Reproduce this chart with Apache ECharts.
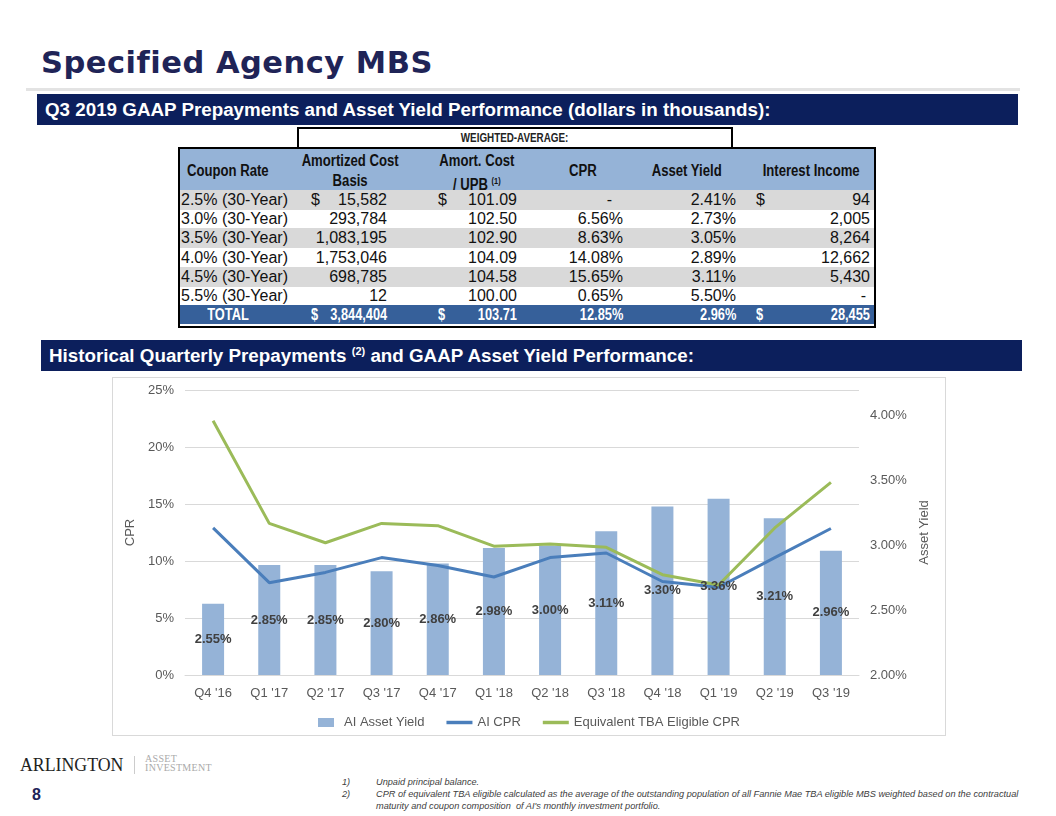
<!DOCTYPE html>
<html>
<head>
<meta charset="utf-8">
<script src="https://cdn.jsdelivr.net/npm/echarts@6/dist/echarts.min.js"></script>
<style>
  html, body { margin:0; padding:0; background:#fff; }
  #page { position:relative; width:1056px; height:816px; overflow:hidden; font-family:"Liberation Sans", Arial, sans-serif; }
  .abs { position:absolute; white-space:nowrap; }
  .banner { position:absolute; background:#0c1f5c; color:#fff; font-family:"Liberation Sans",Arial,sans-serif; font-weight:bold; font-size:18.8px; line-height:31px; height:31px; padding-left:8px; box-sizing:border-box; }
  .cell { position:absolute; white-space:nowrap; }
</style>
</head>
<body>
<div id="page">
  <div class="abs" style="left:41px;top:45px;font-family:'DejaVu Sans',sans-serif;font-weight:bold;font-size:30.5px;color:#1f2457;letter-spacing:0.5px;">Specified Agency MBS</div>
  <div class="abs" style="left:26px;top:88px;width:994px;height:3px;background:#e3e3e3;"></div>
  <div class="banner" style="left:37px;top:94px;width:981px;">Q3 2019 GAAP Prepayments and Asset Yield Performance (dollars in thousands):</div>
  <div id="table"></div>
  <div class="banner" style="left:41px;top:340px;width:981px;">Historical Quarterly Prepayments <sup style="font-size:11px;line-height:0;">(2)</sup> and GAAP Asset Yield Performance:</div>
  <div class="abs" style="left:112px;top:377px;width:832px;height:357px;border:1px solid #d9d9d9;"></div>
  <div id="chart" class="abs" style="left:112px;top:377px;width:834px;height:359px;"></div>

  <div class="abs" style="left:20px;top:755px;font-family:'Liberation Serif',serif;font-size:17.8px;color:#222;">ARLINGTON</div>
  <div class="abs" style="left:134px;top:756px;width:1px;height:18px;background:#ccc;"></div>
  <div class="abs" style="left:145px;top:755px;font-family:'Liberation Serif',serif;font-size:10px;line-height:8.5px;color:#aaa;letter-spacing:0.3px;">ASSET<br>INVESTMENT</div>
  <div class="abs" style="left:32px;top:786px;font-weight:bold;font-size:16px;color:#1f2457;">8</div>

  <div class="abs" style="left:342px;top:776px;font-size:9.2px;line-height:12px;font-style:italic;color:#404040;">1)<br>2)</div>
  <div class="abs" style="left:376px;top:776px;font-size:9.2px;line-height:12px;font-style:italic;color:#404040;">Unpaid principal balance.<br>CPR of equivalent TBA eligible calculated as the average of the outstanding population of all Fannie Mae TBA eligible MBS weighted based on the contractual<br>maturity and coupon composition&nbsp; of AI's monthly investment portfolio.</div>
</div>
<script>
// ---------- Table data ----------
var couponRates = ['2.5% (30-Year)', '3.0% (30-Year)', '3.5% (30-Year)', '4.0% (30-Year)', '4.5% (30-Year)', '5.5% (30-Year)'];
var amortizedCost = [15582, 293784, 1083195, 1753046, 698785, 12];
var costToUpb = [101.09, 102.50, 102.90, 104.09, 104.58, 100.00];
var couponCpr = [null, 6.56, 8.63, 14.08, 15.65, 0.65];
var couponYield = [2.41, 2.73, 3.05, 2.89, 3.11, 5.50];
var interestIncome = [94, 2005, 8264, 12662, 5430, null];
var totalRow = { cost: 3844404, upb: 103.71, cpr: 12.85, yld: 2.96, income: 28455 };

// ---------- Chart data ----------
var quarters = ["Q4 '16", "Q1 '17", "Q2 '17", "Q3 '17", "Q4 '17", "Q1 '18", "Q2 '18", "Q3 '18", "Q4 '18", "Q1 '19", "Q2 '19", "Q3 '19"];
var aiAssetYield = [2.55, 2.85, 2.85, 2.80, 2.86, 2.98, 3.00, 3.11, 3.30, 3.36, 3.21, 2.96];
var aiCpr = [12.9, 8.1, 9.0, 10.3, 9.6, 8.6, 10.3, 10.7, 8.2, 7.7, 10.3, 12.85];
var tbaCpr = [22.3, 13.3, 11.6, 13.3, 13.1, 11.3, 11.5, 11.2, 8.8, 7.9, 12.9, 16.9];
var cprTicks = [0, 25, 5];
var yieldTicks = [2, 4.2, 0.5];

function fmtInt(v){ return v.toLocaleString('en-US'); }
function fmtPct(v){ return v == null ? '-' : v.toFixed(2) + '%'; }

// ---------- Build table ----------
(function(){
  var t = document.getElementById('table');
  var html = '';
  var L = 180, R = 874;
  html += '<div class="cell" style="left:297px;top:127px;width:432px;height:19px;border:2px solid #000;border-bottom:none;"></div>';
  html += '<div class="cell" style="left:297px;top:129px;width:436px;text-align:center;font-size:12px;line-height:19px;font-weight:bold;color:#222;"><span style="display:inline-block;transform:scaleX(0.82);">WEIGHTED-AVERAGE:</span></div>';
  html += '<div class="cell" style="left:' + (L-2) + 'px;top:147px;width:' + (R-L) + 'px;height:177px;border:2px solid #000;"></div>';
  html += '<div class="cell" style="left:' + L + 'px;top:149px;width:' + (R-L) + 'px;height:41px;background:#95b3d7;border-bottom:1px solid #000;"></div>';
  var hdr = [
    {c:228, t:'Coupon Rate', y:171},
    {c:350, t:'Amortized Cost<br>Basis', y:0},
    {c:477, t:'Amort. Cost<br>/ UPB <sup style="font-size:9px;">(1)</sup>', y:0},
    {c:583, t:'CPR', y:171},
    {c:687, t:'Asset Yield', y:171},
    {c:811, t:'Interest Income', y:171}
  ];
  hdr.forEach(function(h){
    var top = h.y ? (h.y - 10) : 151;
    html += '<div class="cell" style="left:' + (h.c-80) + 'px;width:160px;top:' + top + 'px;text-align:center;font-weight:bold;font-size:16px;line-height:20px;color:#111;"><span style="display:inline-block;transform:scaleX(0.82);">' + h.t + '</span></div>';
  });
  var rowTop = 190, rh = 19.2;
  function rowCells(y, vals, color, bold){
    var s = '';
    var sx = bold ? 'transform:scaleX(0.8);' : '';
    var st = 'top:' + y + 'px;font-size:' + (bold ? 16 : 16) + 'px;line-height:' + rh + 'px;color:' + color + ';' + (bold ? 'font-weight:bold;' : '');
    function right(x, txt){ return '<div class="cell" style="' + st + sx + 'transform-origin:100% 50%;right:' + (1056-x) + 'px;">' + txt + '</div>'; }
    function left(x, txt){ return '<div class="cell" style="' + st + sx + 'transform-origin:0 50%;left:' + x + 'px;">' + txt + '</div>'; }
    if (vals.center) s += '<div class="cell" style="' + st + sx + 'left:148px;width:160px;text-align:center;">' + vals.label + '</div>';
    else s += left(181, vals.label);
    if (vals.d1) s += left(311, '$');
    s += right(387, vals.cost);
    if (vals.d2) s += left(438, '$');
    s += right(517, vals.upb);
    s += right(vals.cprDash ? 612 : 623, vals.cpr);
    s += right(736, vals.yld);
    if (vals.d3) s += left(756, '$');
    s += right(vals.incDash ? 866 : 870, vals.inc);
    return s;
  }
  for (var i = 0; i < couponRates.length; i++){
    var y = Math.round(rowTop + i*rh);
    if (i % 2 === 0) html += '<div class="cell" style="left:' + L + 'px;top:' + y + 'px;width:' + (R-L) + 'px;height:' + Math.ceil(rh) + 'px;background:#d9d9d9;"></div>';
    html += rowCells(y, {
      label: couponRates[i], d1: i===0, d2: i===0, d3: i===0,
      cost: fmtInt(amortizedCost[i]), upb: costToUpb[i].toFixed(2),
      cpr: fmtPct(couponCpr[i]), cprDash: couponCpr[i]==null,
      yld: fmtPct(couponYield[i]),
      inc: interestIncome[i]==null ? '-' : fmtInt(interestIncome[i]), incDash: interestIncome[i]==null
    }, '#111', false);
  }
  var ty = Math.round(rowTop + couponRates.length*rh);
  html += '<div class="cell" style="left:' + L + 'px;top:' + ty + 'px;width:' + (R-L) + 'px;height:' + (324-ty) + 'px;background:#36609a;"></div>';
  html += rowCells(ty, {
    label: 'TOTAL', center: true, d1: true, d2: true, d3: true,
    cost: fmtInt(totalRow.cost), upb: totalRow.upb.toFixed(2), cpr: fmtPct(totalRow.cpr),
    yld: fmtPct(totalRow.yld), inc: fmtInt(totalRow.income)
  }, '#fff', true);
  t.innerHTML = html;
})();

// ---------- Chart ----------
var chart = echarts.init(document.getElementById('chart'), null, {renderer:'canvas'});
var axisTxt = {color:'#595959', fontSize:13, fontFamily:'Liberation Sans'};
var lineIcon = 'path://M0 0H30V4H0Z';
chart.setOption({
  animation:false,
  textStyle:{fontFamily:'Liberation Sans'},
  grid:{left:73, top:13, width:674, height:285},
  legend:{
    top:334, left:'center', itemGap:22, itemWidth:26, itemHeight:9,
    textStyle:{color:'#595959', fontSize:13, fontFamily:'Liberation Sans'},
    data:[
      {name:'AI Asset Yield', icon:'path://M0 0H16V9H0Z'},
      {name:'AI CPR', icon:lineIcon},
      {name:'Equivalent TBA Eligible CPR', icon:lineIcon}
    ]
  },
  xAxis:{
    type:'category', data:quarters,
    axisLine:{lineStyle:{color:'#d9d9d9'}}, axisTick:{show:false},
    axisLabel:Object.assign({margin:12}, axisTxt)
  },
  yAxis:[
    {
      type:'value', min:cprTicks[0], max:cprTicks[1], interval:cprTicks[2],
      name:'CPR', nameLocation:'middle', nameRotate:90, nameGap:40,
      nameTextStyle:{color:'#595959', fontSize:13},
      axisLine:{show:false}, axisTick:{show:false},
      axisLabel:Object.assign({formatter:'{value}%', margin:11}, axisTxt),
      splitLine:{lineStyle:{color:'#d9d9d9', width:1}}
    },
    {
      type:'value', min:yieldTicks[0], max:yieldTicks[1], interval:yieldTicks[2],
      name:'Asset Yield', nameLocation:'middle', nameRotate:90, nameGap:57,
      nameTextStyle:{color:'#595959', fontSize:13},
      axisLine:{show:false}, axisTick:{show:false}, splitLine:{show:false},
      axisLabel:Object.assign({
        margin:11, showMaxLabel:false,
        formatter:function(v){ return Math.abs(v - yieldTicks[1]) < 1e-9 ? '' : v.toFixed(2) + '%'; }
      }, axisTxt)
    }
  ],
  series:[
    {
      name:'AI Asset Yield', type:'bar', yAxisIndex:1, data:aiAssetYield, barWidth:22,
      itemStyle:{color:'#95b3d7'}, z:2
    },
    {
      name:'AI CPR', type:'line', yAxisIndex:0, data:aiCpr, symbol:'none',
      lineStyle:{color:'#4a7ebb', width:3}, itemStyle:{color:'#4a7ebb'}, z:3
    },
    {
      name:'Equivalent TBA Eligible CPR', type:'line', yAxisIndex:0, data:tbaCpr, symbol:'none',
      lineStyle:{color:'#9bbb59', width:3}, itemStyle:{color:'#9bbb59'}, z:3
    },
    {
      name:'Yield labels', type:'bar', yAxisIndex:1, data:aiAssetYield, barWidth:22, barGap:'-100%',
      itemStyle:{color:'rgba(0,0,0,0)'}, silent:true, z:10,
      label:{show:true, position:'inside', color:'#404040', fontWeight:'bold', fontSize:13,
        formatter:function(p){ return p.value.toFixed(2) + '%'; }}
    }
  ]
});
</script>
</body>
</html>
